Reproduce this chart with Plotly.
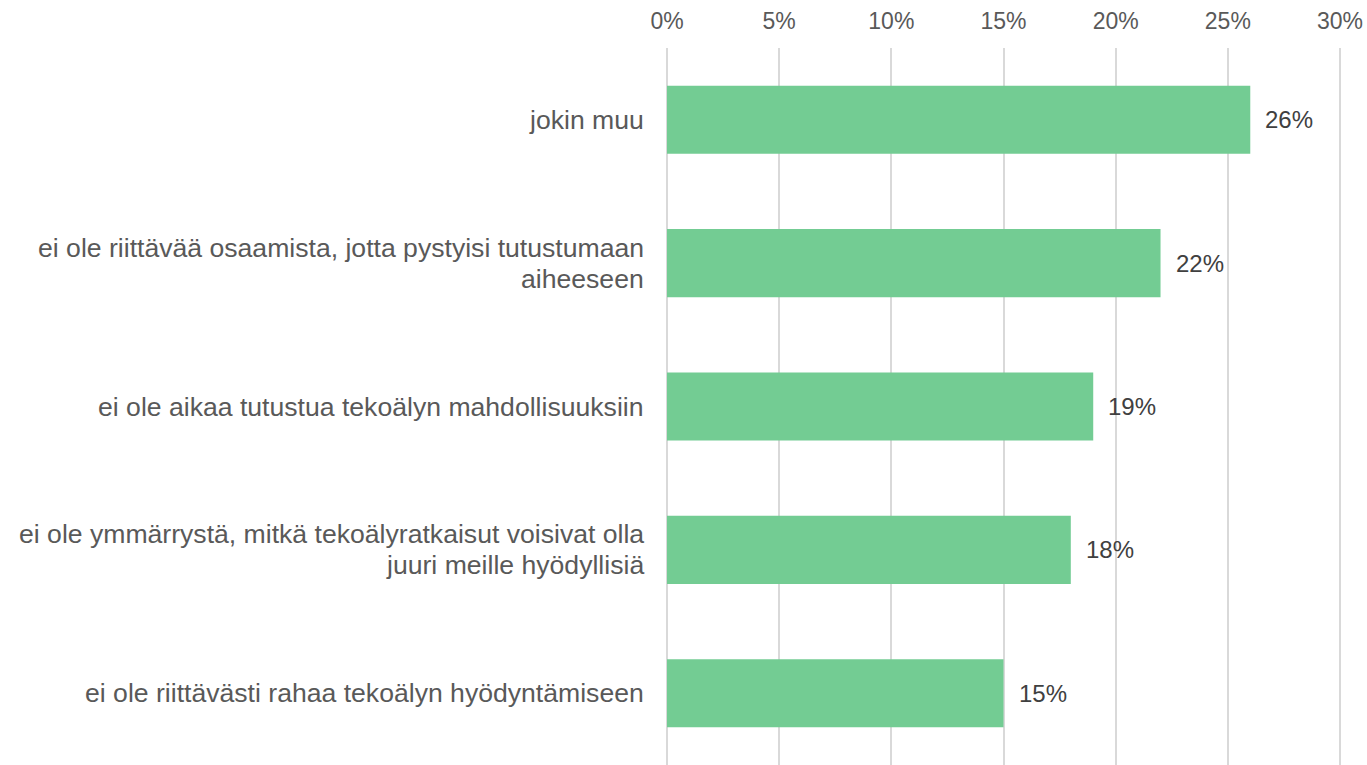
import plotly.graph_objects as go

categories = [
    "jokin muu",
    "ei ole riittävää osaamista, jotta pystyisi tutustumaan\naiheeseen",
    "ei ole aikaa tutustua tekoälyn mahdollisuuksiin",
    "ei ole ymmärrystä, mitkä tekoälyratkaisut voisivat olla\njuuri meille hyödyllisiä",
    "ei ole riittävästi rahaa tekoälyn hyödyntämiseen",
]
values = [26, 22, 19, 18, 15]
tick_values = [0, 5, 10, 15, 20, 25, 30]
tick_labels = ["0%", "5%", "10%", "15%", "20%", "25%", "30%"]

FONT = "Arial, Liberation Sans, sans-serif"
keys = [f"c{i}" for i in range(len(categories))]

fig = go.Figure()
fig.add_trace(go.Bar(
    x=values, y=keys, orientation="h",
    marker=dict(color="#73CC93", line=dict(width=0)),
    width=0.475, hoverinfo="x+y",
))

annotations = []
line_gap = 31
for k, lab in zip(keys, categories):
    lines = lab.split("\n")
    n = len(lines)
    for j, ln in enumerate(lines):
        shift = ((n - 1) / 2 - j) * line_gap
        annotations.append(dict(
            x=0, xref="paper", y=k, yref="y", text=ln, showarrow=False,
            xanchor="right", yanchor="middle", xshift=-21, yshift=shift,
            font=dict(family=FONT, size=26.6, color="#595959"),
        ))
for k, v in zip(keys, values):
    annotations.append(dict(
        x=v, xref="x", y=k, yref="y", text=f"{v}%", showarrow=False,
        xanchor="left", yanchor="middle", xshift=13,
        font=dict(family=FONT, size=24, color="#404040"),
    ))

fig.update_layout(
    width=1367, height=765,
    margin=dict(l=667, r=20, t=48, b=0),
    paper_bgcolor="white", plot_bgcolor="white",
    showlegend=False,
    annotations=annotations,
    xaxis=dict(
        side="top", range=[0, 30.312], tickvals=tick_values, ticktext=tick_labels,
        showgrid=True, gridcolor="#D9D9D9", gridwidth=1.5,
        zeroline=True, zerolinecolor="#D9D9D9", zerolinewidth=1.5,
        showline=False, ticks="", ticklabelstandoff=13, automargin=False,
        tickfont=dict(family=FONT, size=23, color="#595959"),
    ),
    yaxis=dict(
        categoryorder="array", categoryarray=keys, autorange="reversed",
        showticklabels=False, showgrid=False, zeroline=False, ticks="",
        automargin=False,
    ),
)
fig.write_html(
    "out.html",
    config={"displayModeBar": False},
    post_script="document.body.style.margin='0';document.body.style.overflow='hidden';",
)
